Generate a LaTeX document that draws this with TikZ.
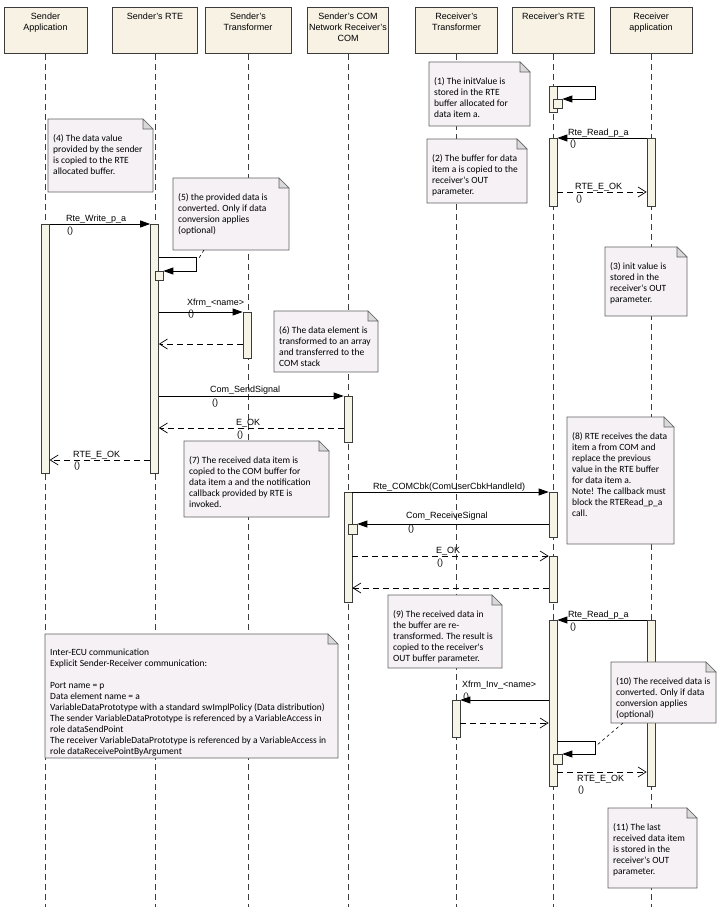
\documentclass[tikz,border=0pt]{standalone}
\usepackage{fontspec}
\setmainfont{Liberation Sans}
\newfontfamily\notefamily{Carlito}
\usetikzlibrary{arrows.meta,calc}
\definecolor{hdrfill}{HTML}{F7F2E4}
\definecolor{actfill}{HTML}{F6F4E6}
\definecolor{notefill}{HTML}{F5F1F5}
\definecolor{foldfill}{HTML}{D9D9D9}
\definecolor{linecol}{HTML}{3C3C3C}
\newcommand{\dnote}[6]{%
  \path[notebg] (#2,#3) -- ({#4-10},#3) -- (#4,{#3+10}) -- (#4,#5) -- (#2,#5) -- cycle;
  \path[notefold] ({#4-10},#3) -- ({#4-10},{#3+10}) -- (#4,{#3+10}) -- cycle;
  \node[notetxt] (#1) at ({#2+5},{#3+15}) {#6};}
\begin{document}
\begin{tikzpicture}[x=1pt,y=-1pt,
  hdr/.style={draw=linecol, fill=hdrfill, line width=0.8pt, minimum height=46pt, anchor=north, inner sep=0},
  hdrtxt/.style={font=\fontsize{9}{11}\selectfont, align=center, inner sep=0, anchor=north},
  life/.style={draw=linecol, line width=0.7pt, dash pattern=on 6pt off 4pt},
  act/.style={draw=linecol, fill=actfill, line width=0.7pt, anchor=north, inner sep=0, minimum width=8pt},
  msg/.style={draw=black, line width=0.8pt, -{Triangle[length=10pt,width=7pt]}},
  ret/.style={draw=black, line width=0.7pt, dash pattern=on 6pt off 4pt, -{Straight Barb[length=8pt,width=10pt]}},
  lbl/.style={font=\fontsize{9}{11}\selectfont, inner sep=0, anchor=base west},
  notebg/.style={draw=linecol!80, fill=notefill, line width=0.7pt},
  notefold/.style={draw=linecol!80, fill=foldfill, line width=0.6pt},
  notetxt/.style={font=\notefamily\fontsize{9.5}{11}\selectfont, align=left, inner sep=0, anchor=north west},
  link/.style={draw=black, line width=0.6pt, dash pattern=on 3pt off 3pt}]
\fill[white] (0,0) rectangle (720,907);
\useasboundingbox (0,0) rectangle (720,907);
\coordinate (bot) at (0,907);
% headers
\node[hdr, minimum width=83pt] (sa) at (45.5,7) {};
\node[hdr, minimum width=85pt] (sr) at (155,7) {};
\node[hdr, minimum width=86pt] (st) at (248,7) {};
\node[hdr, minimum width=81pt] (sc) at (348,7) {};
\node[hdr, minimum width=82pt] (rt) at (456.5,7) {};
\node[hdr, minimum width=82pt] (rr) at (553.5,7) {};
\node[hdr, minimum width=82pt] (ra) at (651,7) {};
\node[hdrtxt] (sat) at (45.5,12.5) {Sender\\Application};
\node[hdrtxt] (srt) at (155,12.5) {Sender's RTE};
\node[hdrtxt] (stt) at (248,12.5) {Sender's\\Transformer};
\node[hdrtxt] (sct) at (348,12.5) {Sender's COM\\Network Receiver's\\COM};
\node[hdrtxt] (rtt) at (456.5,12.5) {Receiver's\\Transformer};
\node[hdrtxt] (rrt) at (553.5,12.5) {Receiver's RTE};
\node[hdrtxt] (rat) at (651,12.5) {Receiver\\application};
% lifelines
\foreach \h in {sa,sr,st,sc,rt,rr,ra}{\draw[life] (\h.south) -- (\h.south |- bot);}
% activation bars
\node[act, minimum width=7.5pt, minimum height=249pt] (bSA) at (45.5,224) {};
\node[act, minimum height=249pt] (bSR) at (154.5,224) {};
\node[act, minimum height=9pt] (bSRs) at (159,271) {};
\node[act, minimum height=46pt] (bST) at (247,312) {};
\node[act, minimum height=46pt] (bSC) at (348,396) {};
\node[act, minimum height=110pt] (bRC) at (348,492) {};
\node[act, minimum width=9pt, minimum height=10pt] (bRCs) at (352.5,524) {};
\node[act, minimum height=26pt] (bRR0) at (553,86) {};
\node[act, minimum width=9pt, minimum height=9pt] (bRR0s) at (557.5,99) {};
\node[act, minimum height=68pt] (bRR1) at (553,138) {};
\node[act, minimum height=68pt] (bRA1) at (651,138) {};
\node[act, minimum height=45pt] (bRR2) at (553,492) {};
\node[act, minimum height=46pt] (bRR3) at (553,556) {};
\node[act, minimum height=166pt] (bRR4) at (553,620) {};
\node[act, minimum height=166pt] (bRA2) at (651,620) {};
\node[act, minimum height=37pt] (bRT) at (456,700) {};
\node[act, minimum width=9pt, minimum height=10pt] (bRR4s) at (557.5,754) {};
% sender side messages
\draw[msg] (bSA.north east) -- (bSR.north west);
\node[lbl] (l1) at (66,221) {Rte\_Write\_p\_a};
\node[lbl] (l1b) at (67,233) {()};
\draw[msg] ([yshift=-33pt]bSR.north east) -| ($(bSRs.north east)+(33,0)$) -- (bSRs.north east);
\draw[msg] ([yshift=-88pt]bSR.north east) -- (bST.north west);
\node[lbl] (l2) at (187,305) {Xfrm\_<name>};
\node[lbl] (l2b) at (188,316) {()};
\draw[ret] ([yshift=-32pt]bST.north west) -- ([yshift=-120pt]bSR.north east);
\draw[msg] ([yshift=-172pt]bSR.north east) -- (bSC.north west);
\node[lbl] (l3) at (210,392) {Com\_SendSignal};
\node[lbl] (l3b) at (212,405) {()};
\draw[ret] ([yshift=-32pt]bSC.north west) -- ([yshift=-204pt]bSR.north east);
\node[lbl] (l4) at (236,425) {E\_OK};
\node[lbl] (l4b) at (237,437) {()};
\draw[ret] ([yshift=-236pt]bSR.north west) -- ([yshift=-236pt]bSA.north east);
\node[lbl] (l5) at (73,457) {RTE\_E\_OK};
\node[lbl] (l5b) at (74,468) {()};
% receiver side messages
\draw[msg] (bRR0.north east) -| ($(bRR0s.north east)+(33,0)$) -- (bRR0s.north east);
\draw[msg] (bRA1.north west) -- (bRR1.north east);
\node[lbl] (l6) at (568,135) {Rte\_Read\_p\_a};
\node[lbl] (l6b) at (570,146) {()};
\draw[ret] ([yshift=-54pt]bRR1.north east) -- ([yshift=-54pt]bRA1.north west);
\node[lbl] (l7) at (575,189) {RTE\_E\_OK};
\node[lbl] (l7b) at (576,201) {()};
\draw[msg] (bRC.north east) -- (bRR2.north west);
\node[lbl] (l8) at (373,489) {Rte\_COMCbk(ComUserCbkHandleId)};
\draw[msg] ([yshift=-32pt]bRR2.north west) -- (bRCs.north east);
\node[lbl] (l9) at (406,518) {Com\_ReceiveSignal};
\node[lbl] (l9b) at (408,531) {()};
\draw[ret] ([yshift=-64pt]bRC.north east) -- (bRR3.north west);
\node[lbl] (l10) at (436,553) {E\_OK};
\node[lbl] (l10b) at (437,565) {()};
\draw[ret] ([yshift=-32pt]bRR3.north west) -- ([yshift=-96pt]bRC.north east);
\draw[msg] (bRA2.north west) -- (bRR4.north east);
\node[lbl] (l11) at (568,617) {Rte\_Read\_p\_a};
\node[lbl] (l11b) at (570,629) {()};
\draw[msg] ([yshift=-80pt]bRR4.north west) -- (bRT.north east);
\node[lbl] (l12) at (462,687) {Xfrm\_Inv\_<name>};
\node[lbl] (l12b) at (463,699) {()};
\draw[ret] ([yshift=-23pt]bRT.north east) -- ([yshift=-103pt]bRR4.north west);
\draw[msg] ([yshift=-121pt]bRR4.north east) -| ($(bRR4s.north east)+(33,0)$) -- (bRR4s.north east);
\draw[ret] ([yshift=-152pt]bRR4.north east) -- ([yshift=-152pt]bRA2.north west);
\node[lbl] (l13) at (577,781) {RTE\_E\_OK};
\node[lbl] (l13b) at (578,792) {()};
% notes
\dnote{n1}{429}{62}{530}{126}{(1) The initValue is\\stored in the RTE\\buffer allocated for\\data item a.}
\dnote{n2}{427}{139}{527}{203}{(2) The buffer for data\\item a is copied to the\\receiver's OUT\\parameter.}
\dnote{n3}{605}{247}{687}{316}{(3) init value is\\stored in the\\receiver's OUT\\parameter.}
\dnote{n4}{48}{119}{153}{192}{(4) The data value\\provided by the sender\\is copied to the RTE\\allocated buffer.}
\dnote{n5}{173}{178}{289}{250}{(5) the provided data is\\converted. Only if data\\conversion applies\\(optional)}
\dnote{n6}{274}{311}{378}{372}{(6) The data element is\\transformed to an array\\and transferred to the\\COM stack}
\dnote{n7}{184}{441}{329}{517}{(7) The received data item is\\copied to the COM buffer for\\data item a and the notification\\callback provided by RTE is\\invoked.}
\dnote{n8}{567}{417}{674}{544}{(8) RTE receives the data\\item a from COM and\\replace the previous\\value in the RTE buffer\\for data item a.\\Note! The callback must\\block the RTERead\_p\_a\\call.}
\dnote{n9}{388}{595}{502}{668}{(9) The received data in\\the buffer are re-\\transformed. The result is\\copied to the receiver's\\OUT buffer parameter.}
\dnote{n10}{611}{662}{716}{723}{(10) The received data is\\converted. Only if data\\conversion applies\\(optional)}
\dnote{n11}{608}{808}{697}{888}{(11) The last\\received data item\\is stored in the\\receiver's OUT\\parameter.}
\dnote{n12}{45}{634}{338}{758}{Inter-ECU communication\\Explicit Sender-Receiver communication:\\[11pt]Port name = p\\Data element name = a\\VariableDataPrototype with a standard swImplPolicy (Data distribution)\\The sender VariableDataPrototype is referenced by a VariableAccess in\\role dataSendPoint\\The receiver VariableDataPrototype is referenced by a VariableAccess in\\role dataReceivePointByArgument}
% note links
\coordinate (k5a) at (204,250);
\coordinate (k5b) at (199,258);
\draw[link] (k5a) -- (k5b);
\coordinate (k10a) at (623,723);
\coordinate (k10b) at (597,745);
\draw[link] (k10a) -- (k10b);
\end{tikzpicture}
\end{document}
